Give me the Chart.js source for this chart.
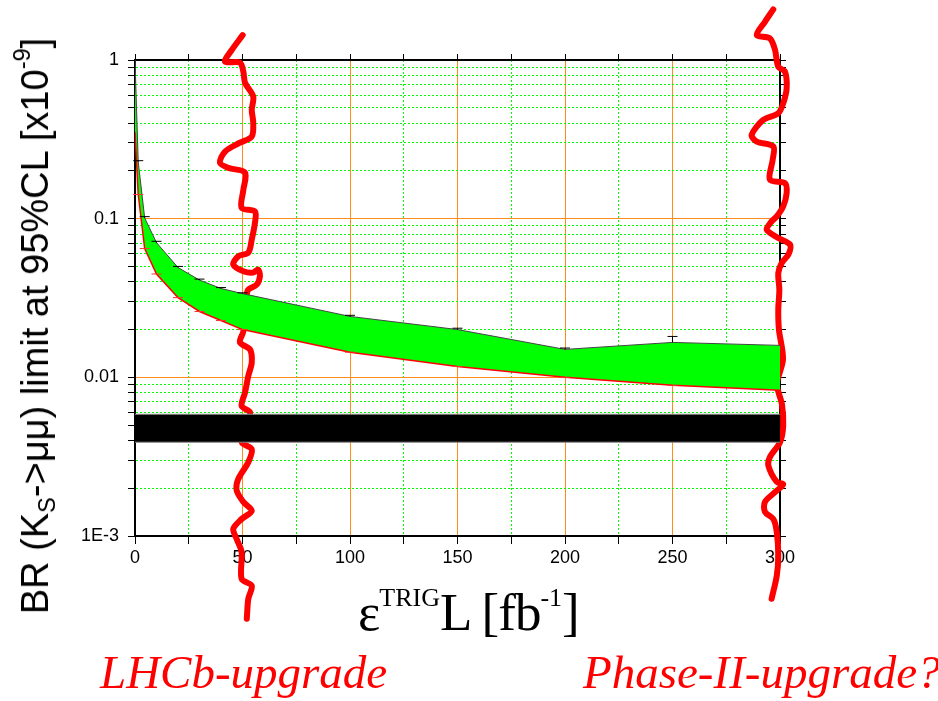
<!DOCTYPE html>
<html>
<head>
<meta charset="utf-8">
<script src="https://cdn.jsdelivr.net/npm/chart.js@4.4.0/dist/chart.umd.min.js"></script>
<style>
  body { margin: 0; background: #fff; }
  #wrap { position: relative; width: 938px; height: 701px; background: #fff; }
  #chart { position: absolute; left: 0; top: 0; }
  .ytitle {
    position: absolute; left: 35px; top: 326px;
    transform: translate(-50%, -50%) rotate(-90deg);
    font: 38px "Liberation Sans", Arial, sans-serif;
    white-space: nowrap; line-height: 1; color: #000;
  }
  .ytitle sub { font-size: 0.62em; vertical-align: -0.3em; line-height: 0; }
  .ytitle sup { font-size: 0.62em; vertical-align: 0.75em; line-height: 0; }
  .xtitle {
    position: absolute; left: 358px; top: 586px;
    font: 53px "Liberation Serif", "Times New Roman", serif;
    white-space: nowrap; line-height: 1; color: #000; letter-spacing: -1px;
  }
  .xtitle sup { font-size: 26px; vertical-align: 24px; line-height: 0; letter-spacing: 0; }
  .note {
    position: absolute; top: 649px;
    font: italic 47px "Liberation Serif", "Times New Roman", serif;
    color: #ff0000; white-space: nowrap; line-height: 1;
  }
</style>
</head>
<body>
<div id="wrap">
  <canvas id="chart" width="938" height="701"></canvas>
  <div class="ytitle">BR (K<sub>S</sub>-&gt;μμ) limit at 95%CL [x10<sup>-9</sup>]</div>
  <div class="xtitle">ε<sup>TRIG</sup>L [fb<sup>-1</sup>]</div>
  <div class="note" style="left:100px">LHCb-upgrade</div>
  <div class="note" style="left:583px">Phase-II-upgrade?</div>
</div>
<script>
// integrated luminosity points (fb-1)
const lumi = [0, 1.5, 4.5, 10, 20, 30, 40, 50, 100, 150, 200, 250, 300];
// upper edge of the band (black line with error caps)
const upperLimit = [1.0, 0.228, 0.101, 0.0706, 0.0492, 0.041, 0.0363, 0.0337, 0.0242, 0.0200, 0.0150, 0.0166, 0.0159];
const upperErr = [null, 0.232, 0.103, 0.072, 0.0500, 0.0416, 0.0368, 0.0341, 0.0246, 0.0204, 0.0153, 0.0181, null];
// lower edge of the band (red line)
const lowerLimit = [0.35, 0.142, 0.0648, 0.0448, 0.0318, 0.026, 0.0228, 0.0200, 0.0144, 0.0117, 0.0100, 0.0089, 0.0083];

// theory band (black)
const bandX = [0, 300];
const bandHigh = [0.00585, 0.00585];
const bandLow = [0.0039, 0.0039];

// hand drawn red marks at 50 and 300 fb-1
const waveLeftX = [50.1, 45.0, 41.9, 48.8, 50.4, 51.2, 55.0, 54.3, 55.0, 54.3, 48.8, 41.9, 39.5, 43.4, 51.2, 50.4, 49.6, 55.8, 55.8, 54.3, 52.7, 48.0, 45.7, 50.4, 55.0, 57.3, 58.1, 56.6, 52.7, 52.0, 50.4, 48.8, 53.5, 54.3, 52.7, 51.2, 49.6, 53.5, 52.0, 49.6, 54.3, 52.7, 48.0, 47.3, 50.4, 54.3, 49.6, 45.7, 47.3, 49.6, 49.6, 54.3, 52.7, 52.0];
const waveLeftY = [1.436, 1.156, 0.976, 0.962, 0.844, 0.717, 0.588, 0.485, 0.402, 0.329, 0.301, 0.265, 0.225, 0.209, 0.195, 0.152, 0.117, 0.111, 0.0944, 0.0738, 0.0611, 0.0579, 0.0514, 0.0466, 0.0457, 0.0478, 0.0434, 0.0384, 0.0357, 0.0332, 0.0195, 0.0166, 0.0150, 0.0124, 0.0102, 0.00805, 0.00659, 0.00602, 0.00494, 0.0039, 0.00352, 0.00292, 0.00228, 0.00193, 0.00164, 0.00144, 0.00128, 0.00111, 0.000957, 0.000793, 0.000537, 0.000487, 0.000402, 0.000301];
const waveRightX = [296.9, 293.0, 289.2, 295.3, 297.7, 299.2, 302.3, 303.1, 301.5, 299.2, 292.2, 286.8, 289.2, 296.9, 296.6, 295.3, 302.3, 303.1, 301.5, 298.5, 296.1, 293.8, 299.2, 304.7, 303.9, 300.8, 299.2, 299.7, 299.2, 299.5, 301.4, 298.6, 300.9, 301.5, 300.0, 295.3, 294.6, 298.5, 301.5, 298.5, 293.0, 293.0, 296.9, 298.5, 299.2, 298.5, 296.1];
const waveRightY = [2.084, 1.741, 1.436, 1.369, 1.156, 0.908, 0.844, 0.664, 0.534, 0.462, 0.419, 0.3375, 0.306, 0.285, 0.235, 0.176, 0.1677, 0.145, 0.1195, 0.1034, 0.0961, 0.0853, 0.0756, 0.0686, 0.0594, 0.0526, 0.0455, 0.0357, 0.0268, 0.020, 0.0130, 0.00904, 0.00676, 0.00494, 0.0039, 0.00314, 0.00277, 0.00219, 0.00212, 0.00193, 0.00164, 0.00142, 0.00128, 0.00106, 0.000751, 0.000562, 0.000402];

const xMajor = [50, 100, 150, 200, 250];
const yTicks = [0.001, 0.002, 0.003, 0.004, 0.005, 0.006, 0.007, 0.008, 0.009,
                0.01, 0.02, 0.03, 0.04, 0.05, 0.06, 0.07, 0.08, 0.09,
                0.1, 0.2, 0.3, 0.4, 0.5, 0.6, 0.7, 0.8, 0.9, 1];
const yLabels = { 1: '1', 0.1: '0.1', 0.01: '0.01', 0.001: '1E-3' };

const orange = '#ff8c1a';
const green = '#00ff00';

const pts = (xs, ys) => xs.map((x, i) => ({ x: x, y: ys[i] }));

const isDecade = v => [0.1, 0.01].some(d => Math.abs(v - d) < 1e-9);
const isYEdge = v => Math.abs(v - 1) < 1e-9 || Math.abs(v - 0.001) < 1e-9;

const errorBars = {
  id: 'errorBars',
  afterDatasetsDraw(chart) {
    const { ctx } = chart;
    const x = chart.scales.x, y = chart.scales.y;
    ctx.save();
    ctx.lineWidth = 1;
    lumi.forEach((l, i) => {
      if (upperErr[i] == null) return;
      const px = x.getPixelForValue(l);
      const top = y.getPixelForValue(upperErr[i]);
      const base = y.getPixelForValue(upperLimit[i]);
      ctx.strokeStyle = '#000';
      ctx.beginPath();
      ctx.moveTo(px, base); ctx.lineTo(px, top);
      ctx.moveTo(px - 5, top); ctx.lineTo(px + 5, top);
      ctx.stroke();
      const low = y.getPixelForValue(lowerLimit[i]);
      ctx.strokeStyle = '#ff3030';
      ctx.beginPath();
      ctx.moveTo(px - 5, low); ctx.lineTo(px + 5, low);
      ctx.stroke();
    });
    ctx.restore();
  }
};

new Chart(document.getElementById('chart'), {
  type: 'line',
  data: {
    datasets: [
      { // band bottom edge
        data: pts(bandX, bandLow),
        borderColor: '#888', borderWidth: 1, pointRadius: 0, fill: false
      },
      { // band top edge, filled down
        data: pts(bandX, bandHigh),
        borderColor: '#888', borderWidth: 1, pointRadius: 0,
        fill: '-1', backgroundColor: '#000'
      },
      { // lower limit
        data: pts(lumi, lowerLimit),
        borderColor: '#ff0000', borderWidth: 1.5, pointRadius: 0, fill: false
      },
      { // upper limit, green fill to lower
        data: pts(lumi, upperLimit),
        borderColor: '#444', borderWidth: 1, pointRadius: 0,
        fill: '-1', backgroundColor: green
      },
      {
        data: pts(waveLeftX, waveLeftY),
        borderColor: '#ff0000', borderWidth: 6, pointRadius: 0, fill: false,
        tension: 0.3, capBezierPoints: false, clip: false,
        borderJoinStyle: 'round', borderCapStyle: 'round'
      },
      {
        data: pts(waveRightX, waveRightY),
        borderColor: '#ff0000', borderWidth: 6, pointRadius: 0, fill: false,
        tension: 0.3, capBezierPoints: false, clip: false,
        borderJoinStyle: 'round', borderCapStyle: 'round'
      }
    ]
  },
  options: {
    responsive: false,
    animation: false,
    layout: { padding: 0 },
    plugins: {
      legend: { display: false },
      tooltip: { enabled: false }
    },
    scales: {
      x: {
        type: 'linear', position: 'bottom', min: 0, max: 300,
        afterFit: s => { s.height = 165; },
        ticks: {
          stepSize: 25, autoSkip: false, maxRotation: 0, padding: 3,
          color: '#000', font: { family: '"Liberation Sans", Arial', size: 18 },
          callback: v => (v % 50 === 0 ? String(v) : '')
        },
        grid: {
          tickLength: 8, tickColor: '#000', lineWidth: 1,
          color: ctx => {
            const v = ctx.tick ? ctx.tick.value : 0;
            if (v === 0 || v === 300) return 'rgba(0,0,0,0)';
            return xMajor.includes(v) ? orange : green;
          }
        },
        border: {
          color: '#000', width: 2,
          dash: ctx => (ctx.tick && !xMajor.includes(ctx.tick.value) ? [2, 2] : [])
        }
      },
      x2: {
        type: 'linear', position: 'top', min: 0, max: 300,
        afterFit: s => { s.height = 60; },
        ticks: { stepSize: 25, display: false },
        grid: { drawOnChartArea: false, tickLength: 6, tickColor: '#000' },
        border: { color: '#000', width: 2 }
      },
      y: {
        type: 'logarithmic', position: 'left', min: 0.001, max: 1,
        afterFit: s => { s.width = 135; },
        afterBuildTicks: s => { s.ticks = yTicks.map(v => ({ value: v })); },
        ticks: {
          autoSkip: false, padding: 9,
          color: '#000', font: { family: '"Liberation Sans", Arial', size: 18 },
          callback: v => {
            for (const k in yLabels) if (Math.abs(v - Number(k)) < 1e-9) return yLabels[k];
            return '';
          }
        },
        grid: {
          tickLength: 7, tickColor: '#000', lineWidth: 1,
          color: ctx => {
            const v = ctx.tick ? ctx.tick.value : 1;
            if (isYEdge(v)) return 'rgba(0,0,0,0)';
            return isDecade(v) ? orange : green;
          }
        },
        border: {
          color: '#000', width: 2,
          dash: ctx => (ctx.tick && !isDecade(ctx.tick.value) ? [2, 2] : [])
        }
      },
      y2: {
        type: 'logarithmic', position: 'right', min: 0.001, max: 1,
        afterFit: s => { s.width = 158; },
        afterBuildTicks: s => { s.ticks = yTicks.map(v => ({ value: v })); },
        ticks: { display: false },
        grid: { drawOnChartArea: false, tickLength: 6, tickColor: '#000' },
        border: { color: '#000', width: 2 }
      }
    }
  },
  plugins: [errorBars]
});
</script>
</body>
</html>
